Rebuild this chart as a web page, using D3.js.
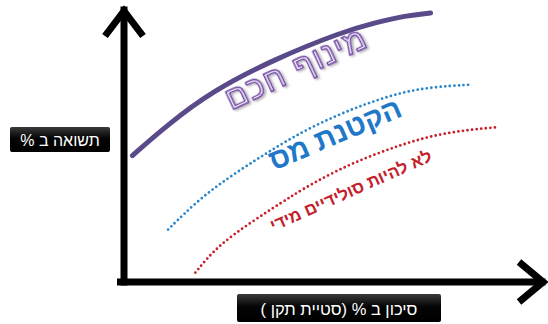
<!DOCTYPE html>
<html>
<head>
<meta charset="utf-8">
<script src="https://cdn.jsdelivr.net/npm/d3@7"></script>
<style>
  html, body { margin: 0; padding: 0; background: #fff; }
  svg { display: block; }
</style>
</head>
<body>
<svg id="chart" width="548" height="324"></svg>
<script>
  // risk (x) / return (y), 0..100
  const smartLeverageX = [2, 10, 21, 36, 52, 60, 67, 73];
  const smartLeverageY = [47, 58, 71, 83, 93, 96.5, 99, 100];
  const taxCutX = [10.5, 18, 26, 34, 42, 50, 58, 66, 73.5, 82];
  const taxCutY = [19.5, 31, 40, 48, 55.5, 61.5, 66.5, 70.5, 72.5, 73.3];
  const notSolidX = [17, 22, 30, 38, 42, 50, 58, 66, 73.5, 81.5, 88.5];
  const notSolidY = [3.5, 13, 22, 30, 34, 41, 46.5, 51, 54.5, 56.5, 57.5];

  const seriesNames = ['מינוף חכם', 'הקטנת מס', 'לא להיות סולידיים מידי'];
  const yLabel = 'תשואה ב %';
  const xLabel = 'סיכון  ב % (סטיית תקן )';

  const font = '"Liberation Sans", Arial, "DejaVu Sans", sans-serif';
  const svg = d3.select('#chart');

  const x = d3.scaleLinear().domain([0, 100]).range([124, 544]);
  const y = d3.scaleLinear().domain([0, 100]).range([282, 13]);

  const defs = svg.append('defs');
  const shadow = defs.append('filter').attr('id', 'shadow')
    .attr('x', '-20%').attr('y', '-20%').attr('width', '140%').attr('height', '140%');
  shadow.append('feDropShadow')
    .attr('dx', 1.5).attr('dy', 2).attr('stdDeviation', 1.2)
    .attr('flood-color', '#000').attr('flood-opacity', 0.3);
  const boxGrad = defs.append('linearGradient').attr('id', 'boxGrad')
    .attr('x1', 0).attr('y1', 0).attr('x2', 0).attr('y2', 1);
  boxGrad.append('stop').attr('offset', '0%').attr('stop-color', '#3a3a3a');
  boxGrad.append('stop').attr('offset', '45%').attr('stop-color', '#050505');
  boxGrad.append('stop').attr('offset', '100%').attr('stop-color', '#000');

  const line = d3.line()
    .x(d => x(d[0]))
    .y(d => y(d[1]))
    .curve(d3.curveBasis);

  const zip = (xs, ys) => xs.map((v, i) => [v, ys[i]]);

  // curves
  svg.append('path')
    .datum(zip(smartLeverageX, smartLeverageY))
    .attr('d', line)
    .attr('fill', 'none')
    .attr('stroke', '#5b4a8a')
    .attr('stroke-width', 5)
    .attr('stroke-linecap', 'round');

  svg.append('path')
    .datum(zip(taxCutX, taxCutY))
    .attr('d', line)
    .attr('fill', 'none')
    .attr('stroke', '#2b86cc')
    .attr('stroke-width', 2.8)
    .attr('stroke-linecap', 'round')
    .attr('stroke-dasharray', '0 4.6');

  svg.append('path')
    .datum(zip(notSolidX, notSolidY))
    .attr('d', line)
    .attr('fill', 'none')
    .attr('stroke', '#c9212b')
    .attr('stroke-width', 2.8)
    .attr('stroke-linecap', 'round')
    .attr('stroke-dasharray', '0 4.6');

  // axes: plain domain lines, no ticks
  const xAxis = svg.append('g')
    .attr('transform', `translate(0,${y(0)})`)
    .call(d3.axisBottom(x).tickValues([]).tickSizeOuter(0));
  const yAxis = svg.append('g')
    .attr('transform', `translate(${x(0)},0)`)
    .call(d3.axisLeft(y).tickValues([]).tickSizeOuter(0));
  [xAxis, yAxis].forEach(g => g.select('.domain')
    .attr('stroke', '#000')
    .attr('stroke-width', 7)
    .attr('stroke-linecap', 'square'));
  xAxis.select('.domain').attr('d', `M${x(0) - 3.5},0H${x(100) - 2}`);
  yAxis.select('.domain').attr('d', `M0,${y(0)}V${y(100) - 3}`);

  // arrow heads
  const arrow = d3.line();
  svg.append('path')
    .attr('d', arrow([[x(0) - 19, 36], [x(0), 11], [x(0) + 19, 36]]))
    .attr('fill', 'none').attr('stroke', '#000')
    .attr('stroke-width', 7).attr('stroke-linejoin', 'miter');
  svg.append('path')
    .attr('d', arrow([[519, y(0) - 20], [543, y(0)], [519, y(0) + 20]]))
    .attr('fill', 'none').attr('stroke', '#000')
    .attr('stroke-width', 7).attr('stroke-linejoin', 'miter');

  // series labels
  svg.append('text')
    .attr('transform', 'translate(296,68) rotate(-25)')
    .attr('text-anchor', 'middle')
    .attr('dominant-baseline', 'central')
    .attr('direction', 'rtl')
    .style('font-family', font)
    .style('font-size', '32px')
    .style('letter-spacing', '1.5px')
    .attr('fill', '#f3eafc')
    .attr('stroke', '#6b3fa0')
    .attr('stroke-width', 1.4)
    .attr('filter', 'url(#shadow)')
    .text(seriesNames[0]);

  svg.append('text')
    .attr('transform', 'translate(335,134) rotate(-23)')
    .attr('text-anchor', 'middle')
    .attr('dominant-baseline', 'central')
    .attr('direction', 'rtl')
    .style('font-family', font)
    .style('font-size', '29px')
    .style('font-weight', 'bold')
    .attr('fill', '#1f78c8')
    .text(seriesNames[1]);

  svg.append('text')
    .attr('transform', 'translate(351,191) rotate(-24)')
    .attr('text-anchor', 'middle')
    .attr('dominant-baseline', 'central')
    .attr('direction', 'rtl')
    .style('font-family', font)
    .style('font-size', '17px')
    .style('font-weight', 'bold')
    .attr('fill', '#c3202b')
    .text(seriesNames[2]);

  // axis title boxes
  const titleBox = (x0, y0, w, h, label, size) => {
    svg.append('rect')
      .attr('x', x0).attr('y', y0).attr('width', w).attr('height', h)
      .attr('rx', 2)
      .attr('fill', 'url(#boxGrad)');
    svg.append('text')
      .attr('x', x0 + w / 2).attr('y', y0 + h / 2 + 1)
      .attr('text-anchor', 'middle')
      .attr('dominant-baseline', 'central')
      .attr('direction', 'rtl')
      .style('font-family', font)
      .style('font-size', size + 'px')
      .attr('fill', '#fff')
      .text(label);
  };
  titleBox(10, 127, 100, 25, yLabel, 16);
  titleBox(237, 294, 204, 28, xLabel, 16.5);
</script>
</body>
</html>
